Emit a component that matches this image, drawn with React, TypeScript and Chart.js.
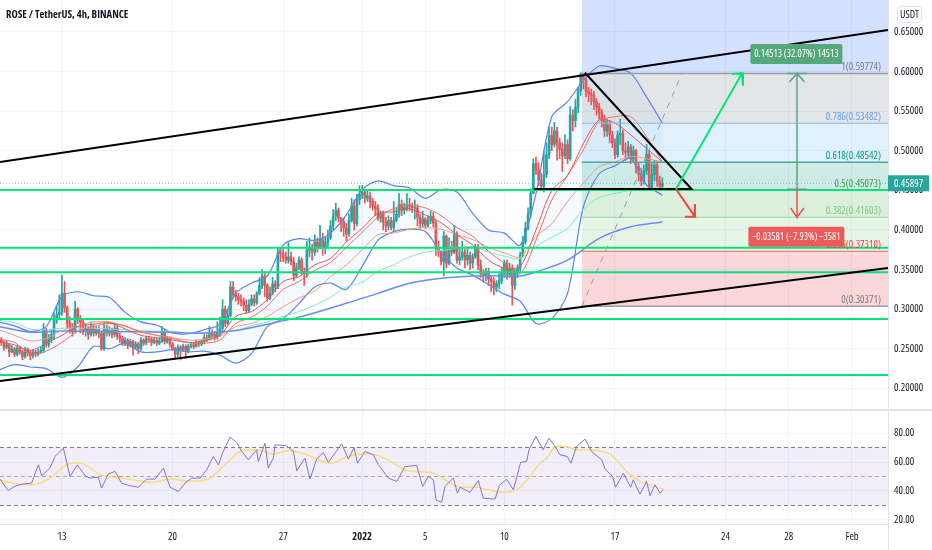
import React, { useEffect, useRef } from "react";
import { Chart, registerables } from "chart.js";

Chart.register(...registerables);

const FONT = '"Open Sans", "Roboto", sans-serif';
const NARROW = "condensed";
const INK = "#131722";
const GRID = "#f0f3fa";
const EDGE = "#e0e3eb";
const UP = "#26a69a";
const DOWN = "#ef5350";

const startDay = -4;
const firstOpen = 0.265;
const closes = [
  .262,.258,.252,.255,.246,.250, .243,.251,.246,.240,.249,.245, .241,.246,.243,.246,.248,.274, .255,.262,.268,.286,.293,.296,
  .320,.302,.282,.276,.272,.300, .288,.284,.272,.276,.268,.276, .270,.274,.269,.250,.276,.270, .273,.268,.276,.266,.263,.256,
  .261,.254,.259,.252,.256,.250, .261,.257,.263,.262,.258,.261, .257,.260,.272,.259,.263,.256, .250,.243,.252,.249,.253,.247,
  .253,.255,.253,.258,.256,.259, .264,.262,.270,.268,.265,.270, .276,.300,.282,.292,.328,.318, .316,.312,.310,.305,.298,.306,
  .313,.308,.320,.330,.342,.330, .314,.320,.332,.328,.371,.370, .366,.362,.366,.360,.343,.352, .362,.347,.345,.375,.378,.372,
  .385,.378,.388,.378,.385,.390, .405,.418,.425,.415,.410,.403, .395,.412,.430,.408,.438,.445, .448,.440,.443,.436,.430,.427,
  .415,.421,.410,.405,.412,.403, .412,.420,.432,.425,.428,.432, .430,.428,.428,.416,.408,.414, .406,.412,.417,.409,.378,.372,
  .360,.392,.358,.378,.372,.395, .362,.366,.372,.362,.368,.358, .366,.378,.356,.345,.342,.348, .338,.335,.328,.332,.336,.345,
  .358,.344,.352,.330,.345,.352, .368,.385,.402,.420,.446,.484, .476,.463,.455,.470,.495,.519, .508,.525,.510,.502,.494,.508,
  .490,.545,.538,.555,.576,.597, .590,.575,.572,.570,.562,.555, .548,.538,.525,.533,.520,.510, .495,.520,.522,.500,.498,.505,
  .490,.500,.480,.470,.462,.475, .496,.452,.470,.482,.462,.455, .45897,
];
const highs = [
  .268,.264,.260,.260,.256,.254, .252,.254,.253,.248,.252,.251, .247,.249,.248,.250,.252,.282, .276,.268,.274,.295,.303,.318,
  .343,.335,.304,.290,.282,.310, .302,.292,.288,.282,.278,.284, .280,.278,.278,.272,.282,.280, .278,.276,.281,.280,.270,.266,
  .264,.263,.262,.261,.259,.258, .264,.263,.266,.266,.264,.264, .263,.264,.278,.275,.266,.265, .258,.252,.255,.254,.256,.255,
  .256,.258,.258,.261,.260,.262, .268,.268,.278,.274,.272,.284, .290,.312,.304,.300,.335,.335, .324,.320,.318,.314,.312,.312,
  .318,.318,.322,.340,.350,.345, .332,.328,.340,.336,.378,.378, .376,.372,.384,.372,.365,.358, .366,.365,.352,.386,.390,.382,
  .394,.390,.406,.396,.392,.400, .412,.426,.434,.428,.416,.415, .408,.420,.440,.438,.445,.456, .456,.452,.450,.448,.440,.436,
  .432,.424,.424,.416,.418,.416, .436,.428,.446,.438,.434,.446, .440,.434,.438,.432,.420,.424, .416,.418,.424,.422,.412,.386,
  .374,.398,.394,.390,.386,.406, .398,.378,.386,.376,.376,.372, .370,.382,.382,.362,.350,.352, .352,.342,.340,.336,.345,.352,
  .362,.362,.358,.356,.350,.356, .372,.392,.410,.428,.452,.490, .492,.485,.472,.500,.510,.530, .530,.536,.530,.516,.510,.520,
  .514,.556,.552,.565,.580,.5986, .597,.592,.580,.578,.575,.566, .560,.552,.545,.540,.538,.525, .515,.525,.540,.526,.510,.512,
  .508,.506,.502,.484,.478,.482, .508,.500,.484,.488,.486,.468, .466,
];
const lows = [
  .258,.254,.248,.250,.240,.245, .240,.241,.243,.236,.238,.241, .236,.238,.240,.241,.244,.245, .252,.252,.258,.262,.282,.288,
  .292,.296,.276,.270,.266,.270, .282,.270,.268,.266,.262,.266, .266,.267,.264,.248,.248,.266, .266,.264,.265,.262,.258,.254,
  .254,.250,.252,.242,.250,.244, .248,.254,.255,.258,.254,.256, .254,.255,.258,.256,.257,.252, .248,.238,.240,.236,.247,.238,
  .245,.251,.250,.252,.253,.254, .256,.259,.261,.264,.261,.262, .266,.270,.278,.280,.290,.314, .310,.306,.304,.298,.295,.296,
  .304,.304,.306,.318,.326,.316, .310,.312,.318,.322,.326,.360, .360,.358,.358,.356,.336,.340, .350,.344,.330,.340,.366,.362,
  .368,.372,.376,.368,.370,.378, .388,.400,.412,.410,.398,.392, .386,.392,.410,.400,.405,.432, .440,.434,.436,.428,.425,.418,
  .412,.410,.400,.398,.400,.400, .398,.410,.416,.418,.420,.424, .424,.422,.414,.405,.402,.404, .402,.404,.408,.404,.368,.366,
  .356,.342,.352,.356,.368,.370, .358,.356,.362,.352,.356,.350, .352,.364,.350,.340,.334,.336, .330,.322,.318,.322,.326,.332,
  .340,.338,.340,.305,.325,.340, .348,.366,.382,.400,.416,.446, .470,.456,.450,.448,.466,.490, .500,.505,.488,.490,.474,.490,
  .484,.488,.525,.530,.548,.570, .578,.568,.562,.558,.552,.545, .540,.530,.518,.518,.510,.504, .490,.492,.508,.495,.488,.490,
  .484,.486,.472,.462,.456,.458, .470,.450,.450,.462,.455,.450, .450,
];

const overlayDays = [-4,-3,-2,-1,0,1,2,3,4,5,6,7,8,9,10,11,12,13,14,15,16,17,18,19,20,21,22,23,24,25,26,27,28,29,30,31,32,33,34,35,36,37,38];
const bbUpper = [.284,.279,.272,.278,.316,.322,.317,.315,.296,.284,.280,.270,.269,.274,.281,.320,.333,.342,.381,.389,.387,.396,.419,.451,.462,.456,.453,.440,.451,.448,.421,.400,.396,.381,.446,.543,.562,.589,.607,.604,.598,.568,.535];
const bbLower = [.223,.230,.227,.225,.214,.227,.253,.250,.257,.246,.246,.249,.246,.247,.242,.232,.244,.278,.288,.307,.328,.333,.325,.354,.387,.398,.401,.398,.371,.352,.343,.331,.319,.310,.282,.288,.320,.429,.471,.481,.490,.457,.444];
const emaFast = [.259,.255,.248,.257,.267,.278,.281,.283,.275,.267,.264,.261,.258,.260,.267,.291,.297,.312,.335,.341,.356,.364,.385,.402,.421,.423,.427,.419,.409,.394,.381,.362,.352,.354,.400,.450,.469,.509,.539,.535,.520,.503,.486];
const emaMid = [.262,.258,.243,.247,.258,.272,.278,.282,.279,.271,.267,.263,.258,.257,.261,.282,.290,.304,.325,.335,.349,.359,.378,.397,.416,.427,.431,.428,.418,.403,.392,.373,.358,.345,.387,.438,.469,.501,.537,.543,.543,.518,.486];
const emaSlow = [.274,.267,.260,.263,.273,.278,.284,.284,.278,.272,.267,.264,.261,.262,.266,.278,.282,.291,.303,.314,.323,.341,.356,.375,.394,.396,.401,.403,.401,.394,.388,.378,.371,.366,.392,.408,.436,.459,.480,.486,.493,.490,.486];
const emaMint = [.286,.283,.275,.274,.276,.276,.276,.275,.274,.273,.272,.272,.270,.270,.271,.273,.279,.284,.291,.297,.305,.315,.328,.334,.348,.356,.366,.372,.374,.377,.379,.372,.367,.364,.379,.391,.402,.426,.441,.446,.450,.452,.453];
const blueDays = [-4,-2,0,2,6.6,8.8,11,13,15,18,20,22,24,26,28,29,30,32,34,36,38];
const emaBlue = [.278,.271,.2725,.272,.271,.2696,.273,.281,.290,.3074,.320,.3327,.339,.342,.342,.342,.347,.362,.3894,.404,.410];

const rsiDays = [-3.92,-3.41,-2.91,-2.4,-1.92,-1.49,-1.28,-.76,-.44,.09,.51,.97,1.52,1.78,2.3,2.51,2.94,3.36,3.78,4.31,4.84,5.36,5.89,6.42,6.84,7.37,7.79,8.21,8.74,9.16,9.58,9.9,10.21,10.64,11.06,11.38,11.8,12.32,12.43,12.85,13.06,13.38,13.49,14.22,14.65,14.86,15.38,15.7,16.12,16.54,16.86,17.28,17.7,18.13,18.49,18.7,19.18,19.71,20.03,20.66,21.19,21.71,22.45,22.83,23.19,23.51,23.68,24.03,24.24,24.77,25.03,25.19,25.82,26.35,26.67,27.41,27.68,28.14,28.57,29.03,29.41,29.56,30,30.46,30.82,31.1,31.52,31.98,32.21,32.57,33.1,33.52,34.16,34.37,34.85,35.04,35.53,35.99,36.16,36.58,37,37.22,37.53,37.85,38.06];
const rsiValues = [48.2,40.3,43.6,44.9,45.4,58.1,50.5,55.8,63.8,69.6,50,58,50,48.9,49.5,42,51.8,53.5,45.4,43.6,42.6,48.2,48.2,55.8,42.6,39.7,45.4,48.9,48.9,54.6,63.8,58.1,67.3,77.1,73.5,67.3,61.5,68.4,60.4,73,55.8,62.7,71.9,71.2,67.3,53.9,62.7,48.2,62,66.6,59.7,66.1,72.5,62,70,59.2,67.3,65,58.1,48.9,46.6,56.9,57.6,43.1,50,47.7,33.9,32.1,43.1,48.9,38.5,42.6,39,47.2,35,34.4,43.8,48.2,40.8,59.7,60.4,68.4,77.6,68.4,76.5,72.5,65,63.8,59.2,70.7,75.8,67.3,61.5,55.3,50,42.6,52.3,42.6,47.7,37.8,46.6,36.7,44.3,38.5,40.8];
const rsiMaDays = [-3.92,-2.87,-1.81,-.76,.3,1.35,2.41,3.46,4.52,5.78,6.84,7.89,9.16,10.21,11.27,12.32,13.38,14.43,15.49,16.97,18.23,19.5,20.55,21.82,23.51,24.98,26.24,27.72,28.78,29.62,30.25,30.68,31.2,31.94,32.47,33.42,34.68,35.74,36.69,38.06];
const rsiMaValues = [47.7,44.9,44.3,48.9,58.1,58.7,51.2,49.3,47.7,45.9,48.2,47,47.7,56.9,67.3,68.4,65.6,67.9,65,59.2,64.3,65.6,62,54.1,52.3,43.1,42.6,39.2,40.8,50,59.2,62.7,70.2,70.7,68.4,68.4,65.6,53.5,46.1,41.3];

const priceTicks = [.2,.25,.3,.35,.4,.45,.5,.55,.6,.65];
const rsiTicks = [20,40,60,80];
const dayTicks = [0,7,14,19,23,28,35,42,46,50];
const dayLabels = ["13","20","27","2022","5","10","17","24","28","Feb"];
const greenLevels = [.4505,.3777,.3466,.2876,.2169];
const fibValues = [.59774,.53482,.48542,.45073,.41603,.3731,.30371];
const fibTexts = ["1(0.59774)","0.786(0.53482)","0.618(0.48542)","0.5(0.45073)","0.382(0.41603)","0.236(0.37310)","0(0.30371)"];
const fibLineColors = ["#9a9ca6","#8fb8e8","#4fa89a","#66bb6a","#a5d6a7","#f2636f","#9a9ca6"];
const fibLineWidths = [1.5,1,1.5,1,1,1,1.5];
const fibTextColors = ["#787b86","#64a0e8","#089981","#4a9a5a","#81c784","#f23645","#787b86"];
const fibZoneColors = ["rgba(120,123,134,.2)","rgba(100,181,246,.2)","rgba(8,153,129,.2)","rgba(76,175,80,.2)","rgba(129,199,132,.2)","rgba(242,54,69,.2)"];
const lastPrice = 0.45897;
const xMin = -3.92;
const xMax = 52.28;
const fibStart = 32.9;

const upperChannel = [{ x: xMin, y: .4859 }, { x: xMax, y: .6525 }];
const lowerChannel = [{ x: xMin, y: .2093 }, { x: xMax, y: .352 }];
const triangleBase = [{ x: 29.87, y: .4518 }, { x: 39.85, y: .4518 }, { x: 33.1, y: .5986 }];
const fibDiagonal = [{ x: 32.9, y: .30371 }, { x: 39.24, y: .59774 }];
const greenArrow = [{ x: 38.86, y: .4518 }, { x: 43.04, y: .5977 }, { x: 42.39, y: .597 }, { x: 43.04, y: .5977 }, { x: 43.1, y: .5822 }];
const redArrow = [{ x: 38.86, y: .4518 }, { x: 40.06, y: .4168 }, { x: 39.43, y: .4168 }, { x: 40.06, y: .4168 }, { x: 40.06, y: .4328 }];
const measureUp = [{ x: 45.89, y: .4515 }, { x: 47.15, y: .4515 }, { x: 46.52, y: .4515 }, { x: 46.52, y: .5977 }, { x: 46.04, y: .5869 }, { x: 46.52, y: .5977 }, { x: 47, y: .5869 }, { x: 46.52, y: .5977 }, { x: 45.89, y: .5977 }, { x: 47.15, y: .5977 }];
const measureDown = [{ x: 46.52, y: .4505 }, { x: 46.52, y: .416 }, { x: 46.12, y: .4278 }, { x: 46.52, y: .416 }, { x: 46.96, y: .4278 }];

const noteUp = { x: 46.48, y: .6222, w: 92, text: "0.14513 (32.07%) 14513", color: "#55a77c" };
const noteDown = { x: 46.48, y: .3915, w: 96, text: "−0.03581 (−7.93%) −3581", color: "#ec5b59" };
const titleText = "ROSE / TetherUS, 4h, BINANCE";
const unitText = "USDT";

const zip = (xs: number[], ys: number[]) => xs.map((x, i) => ({ x, y: ys[i] }));
const line = (data: any[], color: string, width: number, order: number, extra: any = {}) => ({
  type: "line", data, borderColor: color, borderWidth: width, order, pointRadius: 0, fill: false, ...extra,
});
const zone = (top: number, bottom: number, color: string) => ({
  type: "line",
  data: [{ x: fibStart, y: top }, { x: xMax, y: top }],
  borderWidth: 0, borderColor: "transparent", backgroundColor: color, fill: { value: bottom }, order: 100, pointRadius: 0,
});

function roundBox(ctx: any, x: number, y: number, w: number, h: number, r: number) {
  ctx.beginPath();
  ctx.roundRect(x, y, w, h, r);
}

const mainPlugin = {
  id: "mainNotes",
  afterDatasetsDraw(chart: any) {
    const { ctx, scales } = chart;
    const px = (d: number) => scales.x.getPixelForValue(d);
    const py = (v: number) => scales.y.getPixelForValue(v);
    ctx.save();
    ctx.textBaseline = "middle";
    ctx.textAlign = "right";
    ctx.font = `${NARROW} 10.5px ${FONT}`;
    fibTexts.forEach((t, i) => {
      ctx.fillStyle = fibTextColors[i];
      ctx.fillText(t, 881, py(fibValues[i]) - 6);
    });
    [noteUp, noteDown].forEach((n) => {
      const cx = px(n.x), cy = py(n.y);
      ctx.fillStyle = n.color;
      roundBox(ctx, cx - n.w / 2, cy - 10, n.w, 20, 2);
      ctx.fill();
      ctx.fillStyle = "#fff";
      ctx.textAlign = "center";
      ctx.font = `${NARROW} 10px ${FONT}`;
      ctx.fillText(n.text, cx, cy + 0.5);
    });
    ctx.restore();
  },
  afterDraw(chart: any) {
    const { ctx, scales } = chart;
    ctx.save();
    ctx.textBaseline = "middle";
    ctx.fillStyle = INK;
    ctx.textAlign = "left";
    ctx.font = `${NARROW} bold 10.6px ${FONT}`;
    ctx.fillText(titleText, 6, 15);
    const y = scales.y.getPixelForValue(lastPrice);
    ctx.fillStyle = UP;
    ctx.fillRect(888, y - 8, 41, 16);
    ctx.fillStyle = "#fff";
    ctx.font = `${NARROW} 10.5px ${FONT}`;
    ctx.fillText("0.45897", 894, y + 0.5);
    ctx.fillStyle = "#fff";
    ctx.strokeStyle = EDGE;
    roundBox(ctx, 897.5, 6.5, 24, 16, 3);
    ctx.fill();
    ctx.stroke();
    ctx.fillStyle = INK;
    ctx.textAlign = "center";
    ctx.font = `${NARROW} 10.5px ${FONT}`;
    ctx.fillText(unitText, 909.5, 15);
    ctx.fillStyle = EDGE;
    ctx.fillRect(0, 409, 932, 1);
    ctx.restore();
  },
};

const rsiPlugin = {
  id: "rsiFrame",
  afterDraw(chart: any) {
    const { ctx } = chart;
    ctx.save();
    ctx.fillStyle = EDGE;
    ctx.fillRect(0, 0, 932, 1);
    ctx.fillRect(0, 114, 888, 1);
    ctx.fillRect(888, 0, 1, 140);
    ctx.restore();
  },
};

export default function App() {
  const mainRef = useRef<HTMLCanvasElement>(null);
  const rsiRef = useRef<HTMLCanvasElement>(null);

  useEffect(() => {
    const candles = closes.map((c, i) => {
      const o = i === 0 ? firstOpen : closes[i - 1];
      return { x: startDay + i / 6, o, c, h: highs[i], l: lows[i] };
    });
    const colors = candles.map((k) => (k.c >= k.o ? UP : DOWN));
    const clearPad = (s: any) => { s.paddingTop = 0; s.paddingBottom = 0; s.paddingLeft = 0; s.paddingRight = 0; };
    const xGrid: any = {
      type: "linear", min: xMin, max: xMax, offset: false,
      grid: { color: GRID, drawTicks: false, offset: false },
      border: { display: false },
      afterBuildTicks(s: any) { s.ticks = dayTicks.map((value) => ({ value })); },
    };
    const fixWidth = (s: any) => { s.width = 44; clearPad(s); };
    const axisFont = { family: FONT, size: 10.5, weight: NARROW };

    const datasets: any[] = [
      zone(.6904, fibValues[0], "rgba(41,98,255,.2)"),
      ...fibZoneColors.map((c, i) => zone(fibValues[i], fibValues[i + 1], c)),
      line(zip(overlayDays, bbUpper), "#5f84e6", 1.2, 60, { tension: .3, fill: "+1", backgroundColor: "rgba(33,150,243,.05)" }),
      line(zip(overlayDays, bbLower), "#5f84e6", 1.2, 60, { tension: .3 }),
      {
        type: "bar", data: candles.map((k) => ({ x: k.x, y: [k.l, k.h] })),
        backgroundColor: colors, barThickness: 1, grouped: false, order: 80,
      },
      {
        type: "bar", data: candles.map((k) => ({ x: k.x, y: [k.o, k.c] })),
        backgroundColor: colors, barThickness: 2, grouped: false, order: 79,
      },
      line(zip(overlayDays, emaMint), "#7fe6c2", 1, 58, { tension: .3 }),
      line(zip(blueDays, emaBlue), "#6a8cf0", 1.5, 57, { tension: .3 }),
      line(zip(overlayDays, emaSlow), "#f59a78", 1, 56, { tension: .3 }),
      line(zip(overlayDays, emaMid), "#f2705f", 1, 55, { tension: .3 }),
      line(zip(overlayDays, emaFast), "#ef5350", 1, 54, { tension: .3 }),
      line([{ x: xMin, y: lastPrice }, { x: xMax, y: lastPrice }], "rgba(38,166,154,.6)", 1, 50, { borderDash: [1, 2] }),
      ...fibValues.map((v, i) => line([{ x: fibStart, y: v }, { x: xMax, y: v }], fibLineColors[i], fibLineWidths[i], 49)),
      line(fibDiagonal, "#9a9ca6", 1, 48, { borderDash: [6, 6] }),
      ...greenLevels.map((v) => line([{ x: xMin, y: v }, { x: xMax, y: v }], "#00e676", 2, 40)),
      line(upperChannel, "#000", 2, 30),
      line(lowerChannel, "#000", 2, 30),
      line(triangleBase, "#000", 2, 30),
      line(greenArrow, "#00e676", 2, 20),
      line(redArrow, "#f44336", 2, 20),
      line(measureUp, "#5aa584", 1.5, 20),
      line(measureDown, "#ef5350", 1.5, 20),
    ];

    const main = new Chart(mainRef.current!, {
      type: "bar",
      data: { datasets },
      plugins: [mainPlugin],
      options: {
        animation: false, responsive: false, events: [],
        layout: { padding: 0 },
        plugins: { legend: { display: false }, tooltip: { enabled: false } },
        scales: {
          x: { ...xGrid, ticks: { display: false }, afterFit(s: any) { s.height = 0; clearPad(s); } },
          y: {
            type: "linear", position: "right", min: .1727, max: .6904,
            grid: { color: GRID, drawTicks: false },
            border: { color: EDGE },
            afterBuildTicks(s: any) { s.ticks = priceTicks.map((value) => ({ value })); },
            afterFit: fixWidth,
            ticks: { color: INK, padding: 6, font: axisFont, callback: (v: any) => Number(v).toFixed(5) },
          },
        },
      },
    } as any);

    const rsi = new Chart(rsiRef.current!, {
      type: "line",
      data: {
        datasets: [
          line([{ x: xMin, y: 70 }, { x: xMax, y: 70 }], "#787b86", 1, 10, { borderDash: [4, 3], fill: { value: 30 }, backgroundColor: "rgba(126,87,194,.1)" }),
          line([{ x: xMin, y: 50 }, { x: xMax, y: 50 }], "rgba(120,123,134,.6)", 1, 9, { borderDash: [4, 3] }),
          line([{ x: xMin, y: 30 }, { x: xMax, y: 30 }], "#787b86", 1, 9, { borderDash: [4, 3] }),
          line(zip(rsiMaDays, rsiMaValues), "#f7dd7c", 1.5, 5, { tension: .3 }),
          line(zip(rsiDays, rsiValues), "#8074c8", 1, 4),
        ],
      },
      plugins: [rsiPlugin],
      options: {
        animation: false, responsive: false, events: [],
        layout: { padding: 0 },
        plugins: { legend: { display: false }, tooltip: { enabled: false } },
        scales: {
          x: {
            ...xGrid,
            afterFit(s: any) { s.height = 26; clearPad(s); },
            ticks: {
              color: INK, padding: 7, autoSkip: false, maxRotation: 0, minRotation: 0,
              font: (c: any) => ({ family: FONT, size: 10.5, weight: c.tick && c.tick.value === 19 ? `${NARROW} bold` : NARROW }),
              callback: (v: any) => dayLabels[dayTicks.indexOf(Number(v))] ?? "",
            },
          },
          y: {
            type: "linear", position: "right", min: 17.2, max: 95.9,
            grid: { color: GRID, drawTicks: false },
            border: { color: EDGE },
            afterBuildTicks(s: any) { s.ticks = rsiTicks.map((value) => ({ value })); },
            afterFit: fixWidth,
            ticks: { color: INK, padding: 6, font: axisFont, callback: (v: any) => Number(v).toFixed(2) },
          },
        },
      },
    } as any);

    return () => { main.destroy(); rsi.destroy(); };
  }, []);

  return (
    <div style={{ position: "fixed", left: 0, top: 0, width: 932, height: 550, background: "#fff", overflow: "hidden" }}>
      <canvas ref={mainRef} width={932} height={410} style={{ position: "absolute", left: 0, top: 0 }} />
      <canvas ref={rsiRef} width={932} height={140} style={{ position: "absolute", left: 0, top: 410 }} />
    </div>
  );
}
